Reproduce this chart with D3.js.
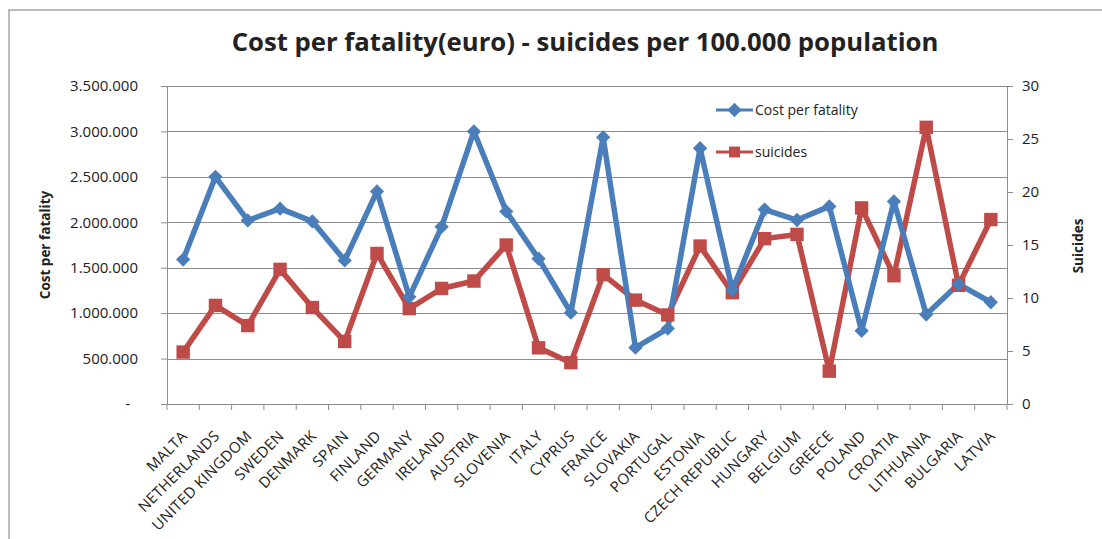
<!DOCTYPE html>
<html>
<head>
<meta charset="utf-8">
<script src="https://cdn.jsdelivr.net/npm/d3@7"></script>
<style>
  html, body { margin: 0; padding: 0; background: #fff; }
  svg { display: block; }
  text { font-family: "Open Sans", "DejaVu Sans", sans-serif; fill: #222; }
</style>
</head>
<body>
<svg id="chart" width="1102" height="539"></svg>
<script>
// Countries along the x axis
const countries = ["MALTA", "NETHERLANDS", "UNITED KINGDOM", "SWEDEN", "DENMARK", "SPAIN",
  "FINLAND", "GERMANY", "IRELAND", "AUSTRIA", "SLOVENIA", "ITALY", "CYPRUS", "FRANCE",
  "SLOVAKIA", "PORTUGAL", "ESTONIA", "CZECH REPUBLIC", "HUNGARY", "BELGIUM", "GREECE",
  "POLAND", "CROATIA", "LITHUANIA", "BULGARIA", "LATVIA"];

// Cost per road fatality (euro), left axis
const costPerFatality = [1590000, 2500000, 2020000, 2150000, 2010000, 1580000,
  2340000, 1180000, 1950000, 3000000, 2120000, 1600000, 1005000, 2935000,
  620000, 830000, 2815000, 1255000, 2140000, 2025000, 2175000,
  805000, 2230000, 985000, 1320000, 1120000];

// Suicides per 100.000 population, right axis
const suicides = [4.9, 9.3, 7.4, 12.7, 9.1, 5.9,
  14.2, 9.0, 10.9, 11.6, 15.0, 5.3, 3.9, 12.2,
  9.8, 8.4, 14.9, 10.5, 15.6, 16.0, 3.1,
  18.5, 12.1, 26.1, 11.2, 17.4];

const leftTicks = [0, 500000, 1000000, 1500000, 2000000, 2500000, 3000000, 3500000];
const rightTicks = [0, 5, 10, 15, 20, 25, 30];

const seriesNames = ["Cost per fatality", "suicides"];
const colors = { cost: "#4A7EBB", suicides: "#BE4B48" };

const svg = d3.select("#chart");
const margin = { left: 167, right: 1007, top: 86, bottom: 404 };

// Outer chart frame
svg.append("rect")
  .attr("x", 9).attr("y", 10)
  .attr("width", 1200).attr("height", 600)
  .attr("fill", "none").attr("stroke", "#a6a6a6").attr("stroke-width", 1.5);

const x = d3.scaleBand().domain(countries).range([margin.left, margin.right]);
const yL = d3.scaleLinear().domain([0, 3500000]).range([margin.bottom, margin.top]);
const yR = d3.scaleLinear().domain([0, 30]).range([margin.bottom, margin.top]);

const locale = d3.formatLocale({ decimal: ",", thousands: ".", grouping: [3], currency: ["", ""] });
const fmt = locale.format(",");

// Horizontal gridlines
svg.append("g").selectAll("line").data(leftTicks.slice(1)).join("line")
  .attr("x1", margin.left).attr("x2", margin.right)
  .attr("y1", d => Math.round(yL(d)) + 0.5).attr("y2", d => Math.round(yL(d)) + 0.5)
  .attr("stroke", "#8c8c8c").attr("stroke-width", 1);

// Left axis
const gL = svg.append("g").attr("transform", `translate(${margin.left},0)`)
  .call(d3.axisLeft(yL).tickValues(leftTicks).tickSize(6).tickPadding(23)
    .tickFormat(d => d === 0 ? "-" : fmt(d)));
gL.selectAll("text").attr("font-size", 15).attr("fill", "#222")
  .attr("dx", d => d === 0 ? -8 : 0);

// Right axis
const gR = svg.append("g").attr("transform", `translate(${margin.right},0)`)
  .call(d3.axisRight(yR).tickValues(rightTicks).tickSize(6).tickPadding(9));
gR.selectAll("text").attr("font-size", 15).attr("fill", "#222");

// Bottom axis with ticks between categories
const gB = svg.append("g").attr("transform", `translate(0,${margin.bottom})`)
  .call(d3.axisBottom(x).tickSize(0).tickFormat(""));
gB.selectAll(".tick").remove();
const bounds = countries.map(c => x(c)).concat([margin.right]);
gB.selectAll("line.sep").data(bounds).join("line").attr("class", "sep")
  .attr("x1", d => d).attr("x2", d => d).attr("y1", 0).attr("y2", 6)
  .attr("stroke", "#8c8c8c");

[gL, gR, gB].forEach(g => {
  g.select(".domain").attr("stroke", "#8c8c8c");
  g.selectAll(".tick line").attr("stroke", "#8c8c8c");
});

// Category labels, rotated
svg.append("g").selectAll("text").data(countries).join("text")
  .attr("text-anchor", "end")
  .attr("font-size", 15)
  .attr("letter-spacing", 0.3)
  .attr("transform", d => `translate(${x(d) + x.bandwidth() / 2 + 5},${margin.bottom + 33}) rotate(-45)`)
  .text(d => d);

// Lines
const cx = d => x(d) + x.bandwidth() / 2;
const lineCost = d3.line().x((d, i) => cx(countries[i])).y(d => yL(d));
const lineSui = d3.line().x((d, i) => cx(countries[i])).y(d => yR(d));

svg.append("path").datum(suicides)
  .attr("d", lineSui).attr("fill", "none")
  .attr("stroke", colors.suicides).attr("stroke-width", 5.5).attr("stroke-linejoin", "round");
svg.append("path").datum(costPerFatality)
  .attr("d", lineCost).attr("fill", "none")
  .attr("stroke", colors.cost).attr("stroke-width", 5.5).attr("stroke-linejoin", "round");

const diamond = d3.symbol().type(d3.symbolDiamond2).size(130);
const square = d3.symbol().type(d3.symbolSquare).size(180);

svg.append("g").selectAll("path").data(suicides).join("path")
  .attr("d", square)
  .attr("transform", (d, i) => `translate(${cx(countries[i])},${yR(d)})`)
  .attr("fill", colors.suicides);

svg.append("g").selectAll("path").data(costPerFatality).join("path")
  .attr("d", diamond)
  .attr("transform", (d, i) => `translate(${cx(countries[i])},${yL(d)})`)
  .attr("fill", colors.cost);

// Legend
const legend = svg.append("g");
const legendRows = [
  { name: seriesNames[0], color: colors.cost, sym: diamond, y: 110 },
  { name: seriesNames[1], color: colors.suicides, sym: d3.symbol().type(d3.symbolSquare).size(120), y: 152 }
];
legendRows.forEach(r => {
  legend.append("line").attr("x1", 716).attr("x2", 753).attr("y1", r.y).attr("y2", r.y)
    .attr("stroke", r.color).attr("stroke-width", 3);
  legend.append("path").attr("d", r.sym).attr("transform", `translate(734.5,${r.y})`).attr("fill", r.color);
  legend.append("text").attr("x", 755).attr("y", r.y).attr("dy", "0.35em")
    .attr("font-size", 14).text(r.name);
});

// Title
svg.append("text").attr("x", 585).attr("y", 51).attr("text-anchor", "middle")
  .attr("font-size", 25.7).attr("font-weight", "bold").attr("fill", "#111")
  .text("Cost per fatality(euro) - suicides per 100.000 population");

// Axis titles
svg.append("text").attr("transform", "translate(50,245) rotate(-90)")
  .attr("text-anchor", "middle").attr("font-size", 13.5).attr("font-weight", "bold")
  .text("Cost per fatality");
svg.append("text").attr("transform", "translate(1083,246) rotate(-90)")
  .attr("text-anchor", "middle").attr("font-size", 13.5).attr("font-weight", "bold")
  .text("Suicides");
</script>
</body>
</html>
